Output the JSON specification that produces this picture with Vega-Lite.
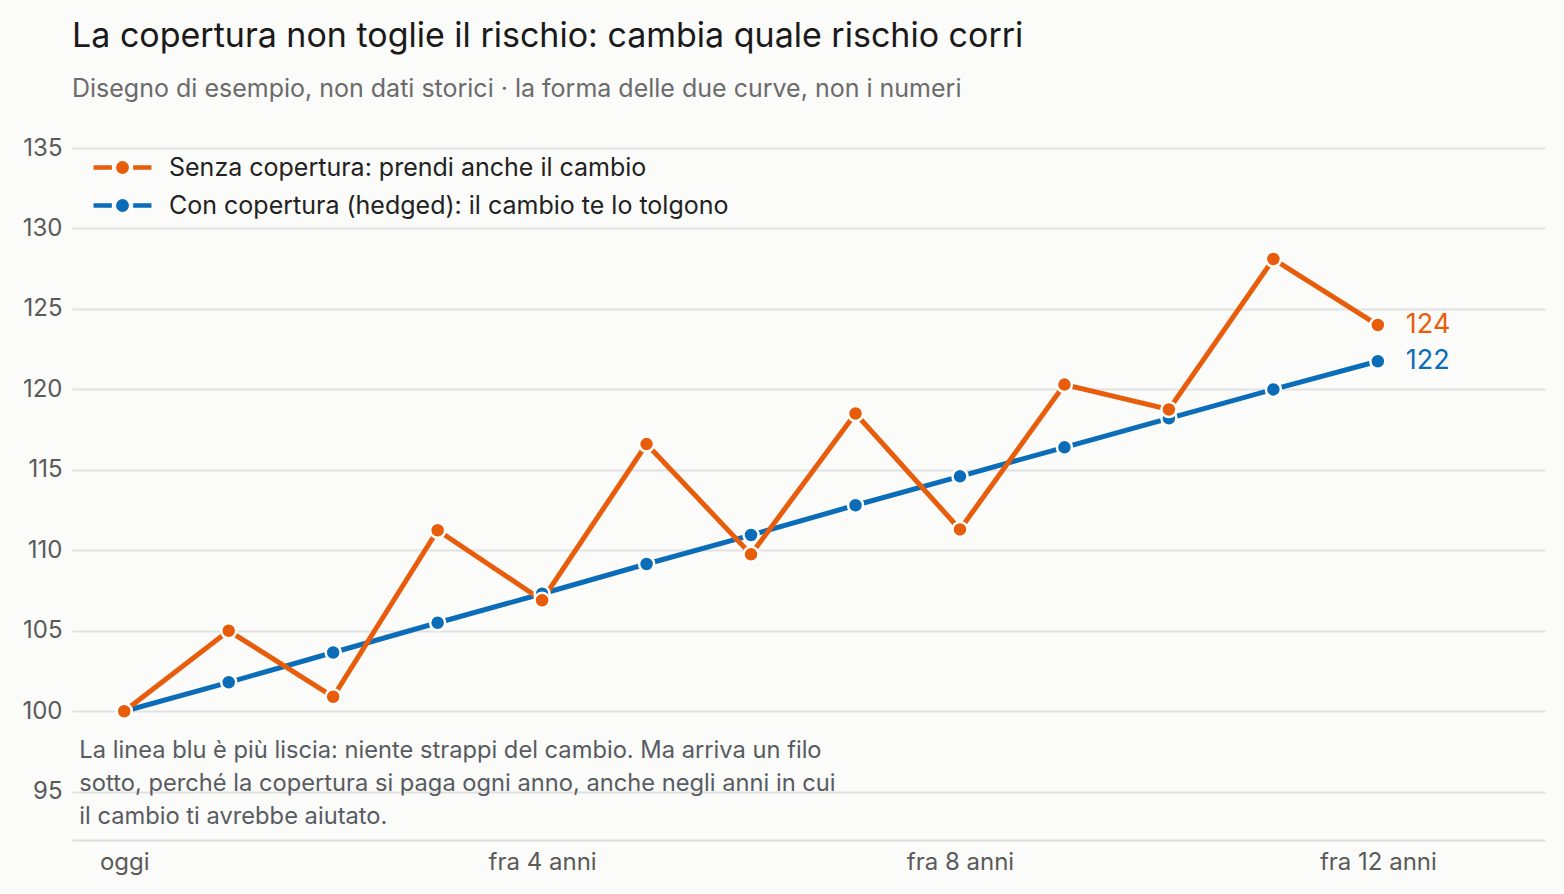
{
  "$schema": "https://vega.github.io/schema/vega-lite/v6.json",
  "autosize": "none",
  "width": 1473,
  "height": 692,
  "padding": {"left": 72, "top": 148, "right": 19, "bottom": 54},
  "background": "#fbfbf9",
  "title": {
    "text": "La copertura non toglie il rischio: cambia quale rischio corri",
    "subtitle": "Disegno di esempio, non dati storici · la forma delle due curve, non i numeri",
    "anchor": "start",
    "frame": "group",
    "offset": 34,
    "fontSize": 34,
    "fontWeight": "normal",
    "color": "#1a1a1a",
    "subtitleFontSize": 25,
    "subtitleColor": "#6b6b6b",
    "subtitlePadding": 23,
    "font": "Inter",
    "subtitleFont": "Inter"
  },
  "datasets": {
    "serie": [
      {"anno": 0, "valore": 100, "serie": "Con copertura (hedged): il cambio te lo tolgono"},
      {"anno": 1, "valore": 101.8, "serie": "Con copertura (hedged): il cambio te lo tolgono"},
      {"anno": 2, "valore": 103.65, "serie": "Con copertura (hedged): il cambio te lo tolgono"},
      {"anno": 3, "valore": 105.5, "serie": "Con copertura (hedged): il cambio te lo tolgono"},
      {"anno": 4, "valore": 107.3, "serie": "Con copertura (hedged): il cambio te lo tolgono"},
      {"anno": 5, "valore": 109.15, "serie": "Con copertura (hedged): il cambio te lo tolgono"},
      {"anno": 6, "valore": 110.95, "serie": "Con copertura (hedged): il cambio te lo tolgono"},
      {"anno": 7, "valore": 112.8, "serie": "Con copertura (hedged): il cambio te lo tolgono"},
      {"anno": 8, "valore": 114.6, "serie": "Con copertura (hedged): il cambio te lo tolgono"},
      {"anno": 9, "valore": 116.4, "serie": "Con copertura (hedged): il cambio te lo tolgono"},
      {"anno": 10, "valore": 118.2, "serie": "Con copertura (hedged): il cambio te lo tolgono"},
      {"anno": 11, "valore": 120.0, "serie": "Con copertura (hedged): il cambio te lo tolgono"},
      {"anno": 12, "valore": 121.75, "serie": "Con copertura (hedged): il cambio te lo tolgono"},
      {"anno": 0, "valore": 100, "serie": "Senza copertura: prendi anche il cambio"},
      {"anno": 1, "valore": 105.0, "serie": "Senza copertura: prendi anche il cambio"},
      {"anno": 2, "valore": 100.9, "serie": "Senza copertura: prendi anche il cambio"},
      {"anno": 3, "valore": 111.25, "serie": "Senza copertura: prendi anche il cambio"},
      {"anno": 4, "valore": 106.9, "serie": "Senza copertura: prendi anche il cambio"},
      {"anno": 5, "valore": 116.6, "serie": "Senza copertura: prendi anche il cambio"},
      {"anno": 6, "valore": 109.75, "serie": "Senza copertura: prendi anche il cambio"},
      {"anno": 7, "valore": 118.5, "serie": "Senza copertura: prendi anche il cambio"},
      {"anno": 8, "valore": 111.3, "serie": "Senza copertura: prendi anche il cambio"},
      {"anno": 9, "valore": 120.3, "serie": "Senza copertura: prendi anche il cambio"},
      {"anno": 10, "valore": 118.75, "serie": "Senza copertura: prendi anche il cambio"},
      {"anno": 11, "valore": 128.1, "serie": "Senza copertura: prendi anche il cambio"},
      {"anno": 12, "valore": 124.0, "serie": "Senza copertura: prendi anche il cambio"}
    ],
    "etichette": [
      {"anno": 12, "valore": 124.0, "testo": "124", "serie": "Senza copertura: prendi anche il cambio"},
      {"anno": 12, "valore": 121.75, "testo": "122", "serie": "Con copertura (hedged): il cambio te lo tolgono"}
    ],
    "nota": [
      {"anno": -0.43, "valore": 98.25, "testo": ["La linea blu è più liscia: niente strappi del cambio. Ma arriva un filo", "sotto, perché la copertura si paga ogni anno, anche negli anni in cui", "il cambio ti avrebbe aiutato."]}
    ]
  },
  "encoding": {
    "x": {
      "field": "anno",
      "type": "quantitative",
      "scale": {"domain": [-0.5, 13.6], "nice": false, "zero": false},
      "axis": {
        "values": [0, 4, 8, 12],
        "labelExpr": "datum.value == 0 ? 'oggi' : 'fra ' + datum.value + ' anni'",
        "title": null,
        "grid": false,
        "ticks": false,
        "domainColor": "#dddddd",
        "domainWidth": 2,
        "labelPadding": 10
      }
    },
    "y": {
      "field": "valore",
      "type": "quantitative",
      "scale": {"domain": [92, 135], "nice": false, "zero": false},
      "axis": {
        "values": [95, 100, 105, 110, 115, 120, 125, 130, 135],
        "title": null,
        "domain": false,
        "ticks": false,
        "gridColor": "#e2e2e2",
        "gridWidth": 2,
        "labelPadding": 10
      }
    }
  },
  "layer": [
    {
      "data": {"name": "serie"},
      "mark": {"type": "line", "strokeWidth": 5},
      "encoding": {
        "color": {
          "field": "serie",
          "type": "nominal",
          "scale": {
            "domain": ["Senza copertura: prendi anche il cambio", "Con copertura (hedged): il cambio te lo tolgono"],
            "range": ["#e85d0c", "#0b6db7"]
          },
          "legend": {
            "title": null,
            "orient": "none",
            "legendX": 33,
            "legendY": 2,
            "symbolType": "M-1.93,0H-0.71M0.71,0H1.93M-0.28,0A0.28,0.28,0,1,1,0.28,0A0.28,0.28,0,1,1,-0.28,0Z",
            "symbolSize": 900,
            "symbolStrokeWidth": 4.5,
            "labelFontSize": 25,
            "labelColor": "#222222",
            "labelFont": "Inter",
            "labelOffset": 29,
            "labelLimit": 800,
            "rowPadding": 7
          }
        },
        "detail": {"field": "serie"},
        "order": {"field": "anno"}
      }
    },
    {
      "data": {"name": "serie"},
      "mark": {"type": "point", "shape": "circle", "filled": true, "size": 225, "stroke": "white", "strokeWidth": 2.5, "opacity": 1},
      "encoding": {
        "color": {"field": "serie", "type": "nominal", "legend": null},
        "stroke": {"value": "white"}
      }
    },
    {
      "data": {"name": "etichette"},
      "mark": {"type": "text", "align": "left", "dx": 28, "fontSize": 27, "font": "Inter"},
      "encoding": {
        "text": {"field": "testo"},
        "color": {"field": "serie", "type": "nominal", "legend": null}
      }
    },
    {
      "data": {"name": "nota"},
      "mark": {"type": "text", "align": "left", "baseline": "top", "fontSize": 23.7, "lineHeight": 33, "color": "#585c62", "font": "Inter"},
      "encoding": {
        "text": {"field": "testo"}
      }
    }
  ],
  "config": {
    "view": {"stroke": null},
    "axis": {"labelFontSize": 24, "labelColor": "#5a5a5a", "labelFont": "Inter"}
  }
}
